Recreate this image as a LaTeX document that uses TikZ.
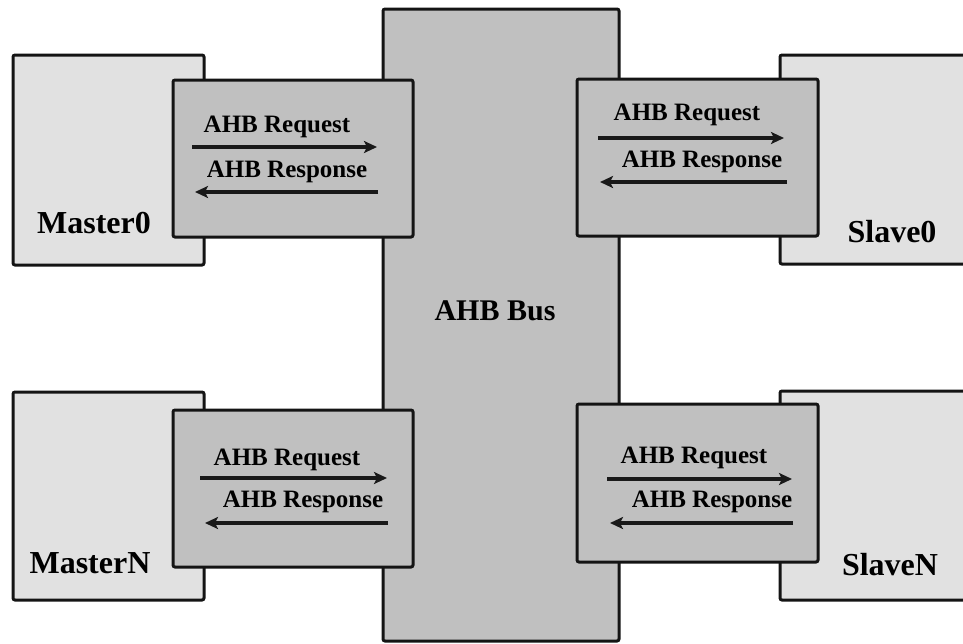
\documentclass[tikz,border=0pt]{standalone}
\usepackage{fontspec}
\setmainfont{Liberation Serif}
\usepackage{tikz}
\usetikzlibrary{arrows.meta}

\definecolor{lightbox}{HTML}{E1E1E1}
\definecolor{darkbox}{HTML}{C0C0C0}
\definecolor{edge}{HTML}{141414}

\tikzset{
    unitbox/.style={draw=edge, line width=3pt, rounded corners=2pt, fill=lightbox, inner sep=0pt},
    busbox/.style={draw=edge, line width=3pt, rounded corners=2pt, fill=darkbox, inner sep=0pt},
    portbox/.style={busbox, minimum width=240pt, minimum height=157pt},
    unitlbl/.style={anchor=base, inner sep=0pt, font=\bfseries\fontsize{32}{34}\selectfont},
    siglbl/.style={anchor=base, inner sep=0pt, font=\bfseries\fontsize{25}{27}\selectfont},
    sig/.style={-{Stealth[length=13pt, width=12pt, inset=3pt]}, line width=3.6pt, draw=black!90}
}

\begin{document}
\begin{tikzpicture}[x=1pt, y=-1pt]
        \useasboundingbox (0,0) rectangle (963,643);
        \clip (0,0) rectangle (963,643);

        \node [unitbox, minimum width=191pt, minimum height=210pt] (master0) at (108.5,160) {};
        \node [unitbox, minimum width=191pt, minimum height=208pt] (masterN) at (108.5,496) {};
        \node [unitbox, minimum width=220pt, minimum height=209pt] (slave0) at (890,159.5) {};
        \node [unitbox, minimum width=220pt, minimum height=209pt] (slaveN) at (890,495.5) {};

        \node [busbox, minimum width=236pt, minimum height=632pt] (bus) at (501,325) {};

        \node [portbox] (m0port) at (293,158.5) {};
        \node [portbox] (mNport) at (293,488.5) {};
        \node [portbox, minimum width=241pt] (s0port) at (697.5,157.5) {};
        \node [portbox, minimum width=241pt, minimum height=158pt] (sNport) at (697.5,483) {};

        \node [unitlbl] (m0lbl) at (94,233) {Master0};
        \node [unitlbl] (mNlbl) at (90,573) {MasterN};
        \node [unitlbl] (s0lbl) at (892,242) {Slave0};
        \node [unitlbl] (sNlbl) at (890,575) {SlaveN};
        \node [unitlbl, font=\bfseries\fontsize{30}{32}\selectfont] (buslbl) at (495,320) {AHB Bus};

        \node [siglbl] (m0req) at (277,132) {AHB Request};
        \node [siglbl] (m0rsp) at (287,177) {AHB Response};
        \node [siglbl] (mNreq) at (287,465) {AHB Request};
        \node [siglbl] (mNrsp) at (303,507) {AHB Response};
        \node [siglbl] (s0req) at (687,120) {AHB Request};
        \node [siglbl] (s0rsp) at (702,167) {AHB Response};
        \node [siglbl] (sNreq) at (694,463) {AHB Request};
        \node [siglbl] (sNrsp) at (712,507) {AHB Response};

        \coordinate (m0reqA) at (192,147);
        \coordinate (m0reqB) at (377,147);
        \coordinate (m0rspA) at (378,192);
        \coordinate (m0rspB) at (195,192);
        \coordinate (mNreqA) at (200,478);
        \coordinate (mNreqB) at (387,478);
        \coordinate (mNrspA) at (388,523);
        \coordinate (mNrspB) at (205,523);
        \coordinate (s0reqA) at (598,138);
        \coordinate (s0reqB) at (784,138);
        \coordinate (s0rspA) at (787,182);
        \coordinate (s0rspB) at (600,182);
        \coordinate (sNreqA) at (607,479);
        \coordinate (sNreqB) at (792,479);
        \coordinate (sNrspA) at (793,523);
        \coordinate (sNrspB) at (610,523);

        \draw [sig] (m0reqA) -- (m0reqB);
        \draw [sig] (m0rspA) -- (m0rspB);
        \draw [sig] (mNreqA) -- (mNreqB);
        \draw [sig] (mNrspA) -- (mNrspB);
        \draw [sig] (s0reqA) -- (s0reqB);
        \draw [sig] (s0rspA) -- (s0rspB);
        \draw [sig] (sNreqA) -- (sNreqB);
        \draw [sig] (sNrspA) -- (sNrspB);
    \end{tikzpicture}
\end{document}
